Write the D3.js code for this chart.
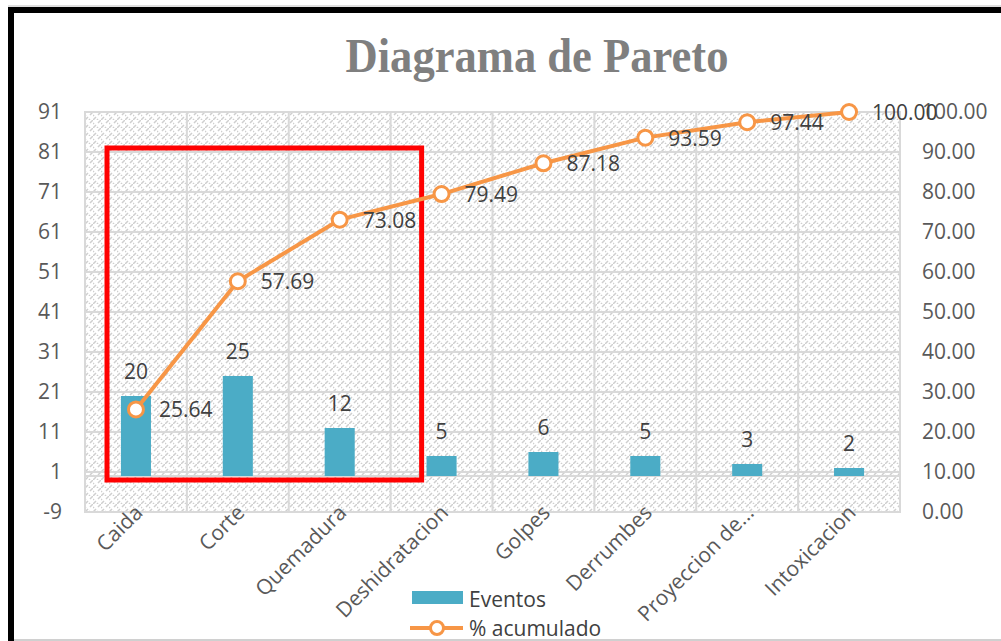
<!DOCTYPE html>
<html>
<head>
<meta charset="utf-8">
<script src="https://cdn.jsdelivr.net/npm/d3@7"></script>
<style>
  body { margin: 0; background: #fff; }
  svg { display: block; }
</style>
</head>
<body>
<div id="chart"></div>
<script>
// data
const categories = ["Caida", "Corte", "Quemadura", "Deshidratacion", "Golpes", "Derrumbes", "Proyeccion de...", "Intoxicacion"];
const eventos = [20, 25, 12, 5, 6, 5, 3, 2];
const acumulado = [25.64, 57.69, 73.08, 79.49, 87.18, 93.59, 97.44, 100.00];
const leftTicks = [-9, 1, 11, 21, 31, 41, 51, 61, 71, 81, 91];
const rightTicks = [0, 10, 20, 30, 40, 50, 60, 70, 80, 90, 100];

const width = 1001, height = 641;
const margin = { top: 112, right: 101, bottom: 129, left: 85 };
const innerWidth = width - margin.left - margin.right;
const innerHeight = height - margin.top - margin.bottom;

const barColor = "#4bacc6";
const lineColor = "#f79646";
const gridColor = "#d9d9d9";
const font = "Open Sans, sans-serif";
const fs = 21;

const svg = d3.select("#chart")
  .append("svg")
    .attr("width", width)
    .attr("height", height);

// hatch pattern for plot area
const defs = svg.append("defs");
const pat = defs.append("pattern")
  .attr("id", "hatch")
  .attr("patternUnits", "userSpaceOnUse")
  .attr("width", 8)
  .attr("height", 8);
pat.append("rect").attr("width", 8).attr("height", 8).attr("fill", "#fff");
pat.append("path")
  .attr("d", "M0,8 L3,5 M5,3 L8,0 M4,8 L5,7 M0,4 L1,3")
  .attr("stroke", "#cfcfcf")
  .attr("stroke-width", 1.5);

// frame
svg.append("line").attr("x1", 8).attr("x2", width).attr("y1", 6).attr("y2", 6)
  .attr("stroke", "#bfbfbf").attr("stroke-width", 1);
svg.append("line").attr("x1", 8).attr("x2", width).attr("y1", 10).attr("y2", 10)
  .attr("stroke", "#000").attr("stroke-width", 6);
svg.append("line").attr("x1", 11).attr("x2", 11).attr("y1", 7).attr("y2", height)
  .attr("stroke", "#000").attr("stroke-width", 6);
svg.append("line").attr("x1", 14).attr("x2", width).attr("y1", 640).attr("y2", 640)
  .attr("stroke", "#d0d0d0").attr("stroke-width", 2);

// title
svg.append("text")
  .attr("x", 537)
  .attr("y", 72)
  .attr("text-anchor", "middle")
  .attr("font-family", "Liberation Serif, serif")
  .attr("font-weight", "bold")
  .attr("font-size", 48)
  .attr("fill", "#7f7f7f")
  .attr("textLength", 383)
  .attr("lengthAdjust", "spacingAndGlyphs")
  .text("Diagrama de Pareto");

const innerChart = svg.append("g")
  .attr("transform", `translate(${margin.left}, ${margin.top})`);

// scales
const xScale = d3.scaleBand()
  .domain(categories)
  .range([0, innerWidth])
  .paddingInner(0)
  .paddingOuter(0);

const yLeft = d3.scaleLinear()
  .domain([-9, 91])
  .range([innerHeight, 0]);

const yRight = d3.scaleLinear()
  .domain([0, 100])
  .range([innerHeight, 0]);

// plot background
innerChart.append("rect")
  .attr("width", innerWidth)
  .attr("height", innerHeight)
  .attr("fill", "url(#hatch)")
  .attr("stroke", gridColor)
  .attr("stroke-width", 2);

// horizontal grid
innerChart.selectAll(".hgrid")
  .data(leftTicks)
  .join("line")
    .attr("class", "hgrid")
    .attr("x1", 0)
    .attr("x2", innerWidth)
    .attr("y1", d => yLeft(d))
    .attr("y2", d => yLeft(d))
    .attr("stroke", gridColor)
    .attr("stroke-width", 2);

// vertical grid at category boundaries
innerChart.selectAll(".vgrid")
  .data(categories)
  .join("line")
    .attr("class", "vgrid")
    .attr("x1", d => xScale(d))
    .attr("x2", d => xScale(d))
    .attr("y1", 0)
    .attr("y2", innerHeight)
    .attr("stroke", gridColor)
    .attr("stroke-width", 2);

// zero axis line
innerChart.append("line")
  .attr("x1", 0).attr("x2", innerWidth)
  .attr("y1", yLeft(0)).attr("y2", yLeft(0))
  .attr("stroke", gridColor)
  .attr("stroke-width", 2);

// left axis labels
const leftAxis = d3.axisLeft(yLeft).tickValues(leftTicks).tickSize(0).tickPadding(23)
  .tickFormat(d => String(d));
const gL = innerChart.append("g").call(leftAxis);
gL.select(".domain").remove();
gL.selectAll("text")
  .attr("font-family", font)
  .attr("font-size", fs)
  .attr("fill", "#595959");

// right axis labels
const rightAxis = d3.axisRight(yRight).tickValues(rightTicks).tickSize(0).tickPadding(22)
  .tickFormat(d3.format(".2f"));
const gR = innerChart.append("g")
  .attr("transform", `translate(${innerWidth}, 0)`)
  .call(rightAxis);
gR.select(".domain").remove();
gR.selectAll("text")
  .attr("font-family", font)
  .attr("font-size", fs)
  .attr("fill", "#595959");

// x labels
innerChart.selectAll(".xlabel")
  .data(categories)
  .join("text")
    .attr("class", "xlabel")
    .attr("text-anchor", "end")
    .attr("font-family", font)
    .attr("font-size", fs)
    .attr("fill", "#595959")
    .attr("transform", d => `translate(${xScale(d) + xScale.bandwidth() / 2 + 8}, ${innerHeight + 2}) rotate(-45)`)
    .text(d => d);

// bars
const barW = xScale.bandwidth() * 0.295;
innerChart.selectAll(".bar")
  .data(eventos)
  .join("rect")
    .attr("class", "bar")
    .attr("x", (d, i) => xScale(categories[i]) + xScale.bandwidth() / 2 - barW / 2)
    .attr("y", d => yLeft(d))
    .attr("width", barW)
    .attr("height", d => yLeft(0) - yLeft(d))
    .attr("fill", barColor);

// bar labels
innerChart.selectAll(".barlabel")
  .data(eventos)
  .join("text")
    .attr("class", "barlabel")
    .attr("x", (d, i) => xScale(categories[i]) + xScale.bandwidth() / 2)
    .attr("y", d => yLeft(d) - 17)
    .attr("text-anchor", "middle")
    .attr("font-family", font)
    .attr("font-size", fs)
    .attr("fill", "#404040")
    .text(d => d);

// red highlight box (first three categories)
const boxX0 = xScale(categories[0]) + 22;
const boxX1 = xScale(categories[3]) + 31;
innerChart.append("rect")
  .attr("x", boxX0)
  .attr("y", yLeft(82))
  .attr("width", boxX1 - boxX0)
  .attr("height", yLeft(-1) - yLeft(82))
  .attr("fill", "none")
  .attr("stroke", "#ff0000")
  .attr("stroke-width", 5);

// cumulative line
const line = d3.line()
  .x((d, i) => xScale(categories[i]) + xScale.bandwidth() / 2)
  .y(d => yRight(d));

innerChart.append("path")
  .datum(acumulado)
  .attr("d", line)
  .attr("fill", "none")
  .attr("stroke", lineColor)
  .attr("stroke-width", 4)
  .attr("stroke-linejoin", "round");

innerChart.selectAll(".marker")
  .data(acumulado)
  .join("circle")
    .attr("class", "marker")
    .attr("cx", (d, i) => xScale(categories[i]) + xScale.bandwidth() / 2)
    .attr("cy", d => yRight(d))
    .attr("r", 7.5)
    .attr("fill", "#fff")
    .attr("stroke", lineColor)
    .attr("stroke-width", 3);

innerChart.selectAll(".linelabel")
  .data(acumulado)
  .join("text")
    .attr("class", "linelabel")
    .attr("x", (d, i) => xScale(categories[i]) + xScale.bandwidth() / 2 + 23)
    .attr("y", d => yRight(d) + 8)
    .attr("font-family", font)
    .attr("font-size", fs)
    .attr("fill", "#404040")
    .text(d => d3.format(".2f")(d));

// legend
const legend = svg.append("g").attr("transform", "translate(412, 591)");
legend.append("rect")
  .attr("x", 0).attr("y", 0)
  .attr("width", 51).attr("height", 13)
  .attr("fill", barColor);
legend.append("text")
  .attr("x", 57).attr("y", 16)
  .attr("font-family", font)
  .attr("font-size", fs)
  .attr("fill", "#404040")
  .text("Eventos");
legend.append("line")
  .attr("x1", -2).attr("x2", 51)
  .attr("y1", 37).attr("y2", 37)
  .attr("stroke", lineColor)
  .attr("stroke-width", 4);
legend.append("circle")
  .attr("cx", 25).attr("cy", 37).attr("r", 6.5)
  .attr("fill", "#fff")
  .attr("stroke", lineColor)
  .attr("stroke-width", 3);
legend.append("text")
  .attr("x", 57).attr("y", 45)
  .attr("font-family", font)
  .attr("font-size", fs)
  .attr("fill", "#404040")
  .text("% acumulado");
</script>
</body>
</html>
